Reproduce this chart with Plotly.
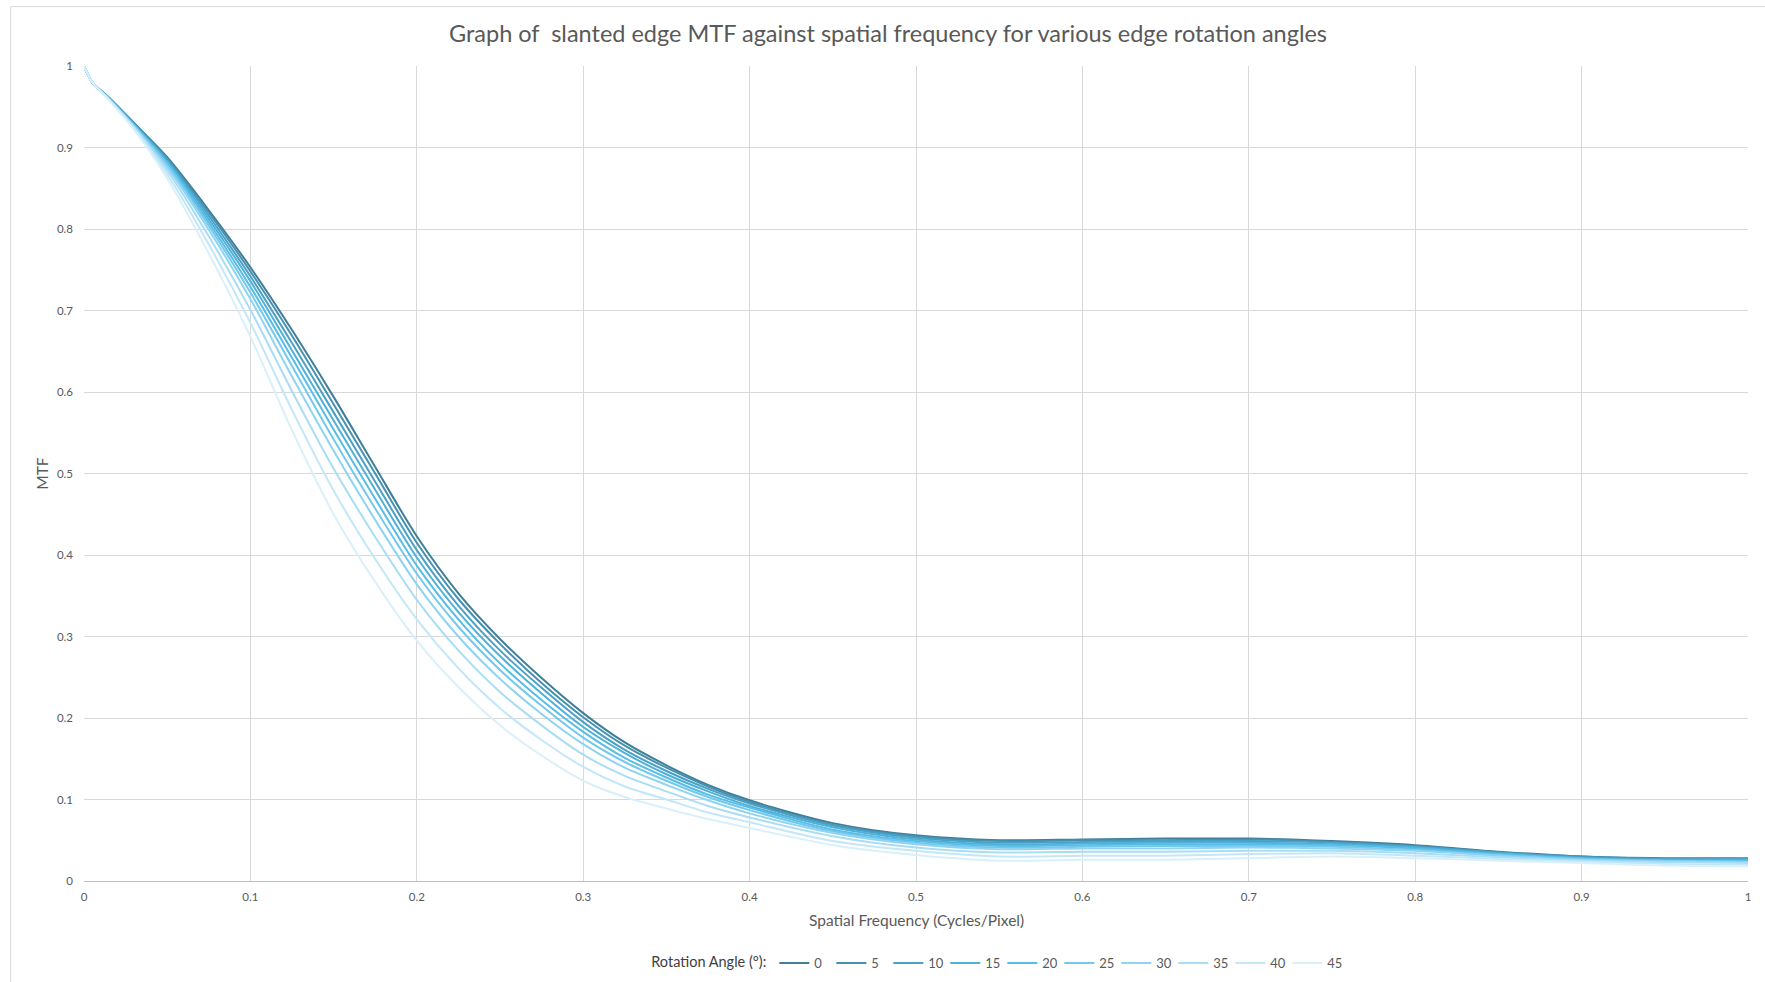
import plotly.graph_objects as go

# Spatial frequency sample points (cycles/pixel)
freq = [0, 0.005, 0.015, 0.03, 0.05, 0.075, 0.1, 0.125, 0.15, 0.175, 0.2,
        0.225, 0.25, 0.275, 0.3, 0.325, 0.35, 0.375, 0.4, 0.45, 0.5,
        0.55, 0.6, 0.65, 0.7, 0.75, 0.8, 0.85, 0.9, 0.95, 1.0]

# Measured MTF for each edge rotation angle (degrees)
mtf_0 = [1.0, 0.980, 0.961, 0.930, 0.888, 0.823, 0.753, 0.676, 0.594, 0.508, 0.423,
         0.353, 0.297, 0.249, 0.206, 0.170, 0.142, 0.118, 0.099, 0.071, 0.056,
         0.050, 0.051, 0.052, 0.052, 0.049, 0.044, 0.036, 0.030, 0.028, 0.028]
mtf_5 = [1.0, 0.980, 0.961, 0.930, 0.886, 0.820, 0.748, 0.669, 0.585, 0.500, 0.415,
         0.346, 0.291, 0.243, 0.201, 0.166, 0.139, 0.116, 0.097, 0.069, 0.055,
         0.049, 0.050, 0.050, 0.051, 0.048, 0.043, 0.035, 0.030, 0.027, 0.027]
mtf_10 = [1.0, 0.980, 0.961, 0.929, 0.885, 0.816, 0.742, 0.660, 0.575, 0.490, 0.406,
          0.338, 0.283, 0.237, 0.195, 0.161, 0.135, 0.113, 0.095, 0.068, 0.053,
          0.047, 0.048, 0.049, 0.049, 0.047, 0.042, 0.035, 0.029, 0.027, 0.027]
mtf_15 = [1.0, 0.980, 0.960, 0.928, 0.883, 0.812, 0.736, 0.651, 0.565, 0.480, 0.397,
          0.330, 0.276, 0.230, 0.189, 0.157, 0.131, 0.110, 0.092, 0.066, 0.051,
          0.045, 0.046, 0.047, 0.047, 0.045, 0.041, 0.034, 0.028, 0.026, 0.026]
mtf_20 = [1.0, 0.980, 0.960, 0.928, 0.881, 0.808, 0.729, 0.642, 0.554, 0.469, 0.387,
          0.321, 0.267, 0.222, 0.183, 0.151, 0.127, 0.106, 0.090, 0.063, 0.049,
          0.043, 0.044, 0.045, 0.045, 0.044, 0.040, 0.033, 0.028, 0.025, 0.025]
mtf_25 = [1.0, 0.980, 0.960, 0.927, 0.879, 0.804, 0.722, 0.632, 0.542, 0.457, 0.377,
          0.312, 0.259, 0.215, 0.176, 0.146, 0.123, 0.103, 0.087, 0.061, 0.047,
          0.041, 0.042, 0.043, 0.043, 0.042, 0.038, 0.032, 0.027, 0.025, 0.024]
mtf_30 = [1.0, 0.980, 0.960, 0.926, 0.876, 0.799, 0.714, 0.619, 0.528, 0.443, 0.364,
          0.300, 0.248, 0.205, 0.168, 0.139, 0.118, 0.099, 0.083, 0.059, 0.045,
          0.039, 0.040, 0.040, 0.041, 0.040, 0.037, 0.031, 0.026, 0.024, 0.023]
mtf_35 = [1.0, 0.980, 0.959, 0.925, 0.872, 0.791, 0.701, 0.601, 0.506, 0.422, 0.345,
          0.283, 0.232, 0.191, 0.155, 0.129, 0.110, 0.092, 0.078, 0.055, 0.041,
          0.035, 0.036, 0.036, 0.037, 0.037, 0.034, 0.029, 0.025, 0.023, 0.022]
mtf_40 = [1.0, 0.980, 0.959, 0.924, 0.867, 0.781, 0.685, 0.578, 0.479, 0.395, 0.321,
          0.261, 0.212, 0.173, 0.140, 0.116, 0.100, 0.084, 0.072, 0.049, 0.037,
          0.030, 0.031, 0.031, 0.033, 0.034, 0.031, 0.027, 0.024, 0.021, 0.020]
mtf_45 = [1.0, 0.980, 0.958, 0.922, 0.862, 0.770, 0.668, 0.553, 0.450, 0.367, 0.295,
          0.238, 0.191, 0.154, 0.123, 0.103, 0.089, 0.076, 0.065, 0.044, 0.032,
          0.025, 0.026, 0.026, 0.028, 0.030, 0.028, 0.025, 0.022, 0.019, 0.018]

angles = ["0", "5", "10", "15", "20", "25", "30", "35", "40", "45"]
series = [mtf_0, mtf_5, mtf_10, mtf_15, mtf_20, mtf_25, mtf_30, mtf_35, mtf_40, mtf_45]
colors = ["#3e7f9a", "#4690b0", "#4aa0c5", "#4fb0d8", "#58bde6",
          "#72c8ed", "#8fd3f2", "#a9ddf5", "#c2e7f8", "#d9f0fa"]

TEXT = "#595959"
GRID = "#d9d9d9"
FONT = "Lato"

fig = go.Figure()
for name, vals, col in zip(angles, series, colors):
    fig.add_trace(go.Scatter(
        x=freq, y=vals, name=name, mode="lines",
        line=dict(color=col, width=2, shape="spline", smoothing=0.8),
    ))

W, H = 1765, 982
L, R, T, B = 84.4, 17, 65.5, 100.5
pw, ph = W - L - R, H - T - B

fig.update_layout(
    width=W, height=H,
    margin=dict(l=L, r=R, t=T, b=B, autoexpand=False),
    paper_bgcolor="white", plot_bgcolor="white",
    font=dict(family=FONT, color=TEXT, size=12),
    title=dict(
        text="Graph of  slanted edge MTF against spatial frequency for various edge rotation angles",
        x=888 / W, xanchor="center", y=1 - 33.8 / H, yanchor="middle",
        xref="container", yref="container",
        font=dict(family=FONT, size=23.5, color=TEXT),
    ),
    xaxis=dict(
        range=[0, 1], dtick=0.1, tick0=0, showgrid=True, gridcolor=GRID, gridwidth=1,
        zeroline=False, showline=True, linecolor="#bfbfbf", linewidth=1,
        ticks="", ticklabelstandoff=5,
        tickfont=dict(family=FONT, size=11.5, color=TEXT),
    ),
    yaxis=dict(
        range=[0, 1], dtick=0.1, tick0=0, showgrid=True, gridcolor=GRID, gridwidth=1,
        zeroline=False, showline=False,
        ticks="", ticklabelstandoff=10,
        tickfont=dict(family=FONT, size=11.5, color=TEXT),
    ),
    legend=dict(
        orientation="h",
        x=(649.5 - L) / pw, xanchor="left",
        y=(H - B - 963.6) / ph, yanchor="middle",
        title=dict(text="Rotation Angle (°):", side="left",
                   font=dict(family=FONT, size=14.5, color="#404040")),
        font=dict(family=FONT, size=13, color=TEXT),
        entrywidth=12, entrywidthmode="pixels",
        bgcolor="rgba(0,0,0,0)",
        traceorder="normal",
    ),
    showlegend=True,
)

# Axis titles
fig.add_annotation(
    text="Spatial Frequency (Cycles/Pixel)", xref="paper", yref="paper",
    x=0.5, y=(H - B - 921) / ph, xanchor="center", yanchor="middle",
    showarrow=False, font=dict(family=FONT, size=15.5, color=TEXT),
)
fig.add_annotation(
    text="MTF", xref="paper", yref="paper",
    x=(41.6 - L) / pw, y=0.5, xanchor="center", yanchor="middle", textangle=-90,
    showarrow=False, font=dict(family=FONT, size=15.5, color=TEXT),
)

# Chart-area border
fig.add_shape(
    type="rect", xref="paper", yref="paper",
    x0=(11 - L) / pw, x1=(1800 - L) / pw,
    y0=(H - B - 6) / ph, y1=(H - B - 1010) / ph,
    line=dict(color=GRID, width=1), fillcolor="rgba(0,0,0,0)", layer="below",
)

fig.write_html("out.html")
